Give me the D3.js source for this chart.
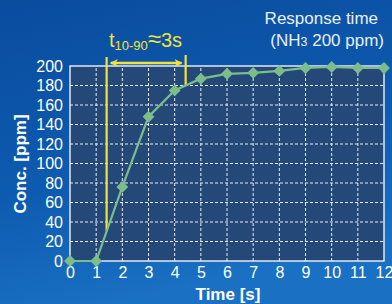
<!DOCTYPE html>
<html>
<head>
<meta charset="utf-8">
<script src="https://cdn.jsdelivr.net/npm/d3@7"></script>
<style>
  body { margin: 0; background: #0d56a6; }
  svg { display: block; }
</style>
</head>
<body>
<div id="vis"></div>
<script>
// data
var times = [0, 1, 2, 3, 4, 5, 6, 7, 8, 9, 10, 11, 12];
var conc = [0, 0, 76, 148, 175, 187, 192, 193, 195, 198, 199, 198, 198];
var xTicks = [0, 1, 2, 3, 4, 5, 6, 7, 8, 9, 10, 11, 12];
var yTicks = [0, 20, 40, 60, 80, 100, 120, 140, 160, 180, 200];
var t10 = 1.4, t90 = 4.42;

var W = 392, H = 304;
var m = {left: 70, right: 8, top: 66, bottom: 43};
var font = "Liberation Sans, Arial, sans-serif";

var svg = d3.select("#vis").append("svg").attr("width", W).attr("height", H);

// background gradient
var defs = svg.append("defs");
var grad = defs.append("linearGradient").attr("id", "bg").attr("x1", 0).attr("y1", 0).attr("x2", 0.3).attr("y2", 1);
grad.append("stop").attr("offset", "0%").attr("stop-color", "#0a4c9e");
grad.append("stop").attr("offset", "60%").attr("stop-color", "#0d5bb0");
grad.append("stop").attr("offset", "100%").attr("stop-color", "#1a70c2");
svg.append("rect").attr("width", W).attr("height", H).attr("fill", "url(#bg)");

var x = d3.scaleLinear().domain([0, 12]).range([m.left, W - m.right]);
var y = d3.scaleLinear().domain([0, 200]).range([H - m.bottom, m.top]);

// plot area
svg.append("rect")
    .attr("x", x(0)).attr("y", y(200))
    .attr("width", x(12) - x(0)).attr("height", y(0) - y(200))
    .attr("fill", "#244878");

// grid
svg.append("g").selectAll("line").data(xTicks.slice(1, -1)).join("line")
    .attr("x1", d => x(d)).attr("x2", d => x(d))
    .attr("y1", y(0)).attr("y2", y(200))
    .attr("stroke", "#e8eef6").attr("stroke-width", 1).attr("stroke-dasharray", "3,2");
svg.append("g").selectAll("line").data(yTicks.slice(1, -1)).join("line")
    .attr("x1", x(0)).attr("x2", x(12))
    .attr("y1", d => y(d)).attr("y2", d => y(d))
    .attr("stroke", "#e8eef6").attr("stroke-width", 1).attr("stroke-dasharray", "3,2");

// frame
svg.append("rect")
    .attr("x", x(0)).attr("y", y(200))
    .attr("width", x(12) - x(0)).attr("height", y(0) - y(200))
    .attr("fill", "none").attr("stroke", "#ffffff").attr("stroke-width", 1.3);

// axes
var xAxis = svg.append("g").attr("transform", "translate(0," + (y(0) + 3) + ")")
    .call(d3.axisBottom(x).tickValues(xTicks).tickSize(0).tickPadding(3));
var yAxis = svg.append("g").attr("transform", "translate(" + (x(0) - 6) + ",0)")
    .call(d3.axisLeft(y).tickValues(yTicks).tickSize(0).tickPadding(1));
[xAxis, yAxis].forEach(function(a) {
    a.select(".domain").remove();
    a.selectAll("text").attr("fill", "#ffffff")
        .style("font-family", font).style("font-size", "16px");
});

// axis titles
svg.append("text").attr("x", 228).attr("y", 300)
    .attr("text-anchor", "middle").attr("fill", "#fff")
    .style("font-family", font).style("font-weight", "bold").style("font-size", "17px")
    .text("Time [s]");
svg.append("text").attr("transform", "translate(26," + 164 + ") rotate(-90)")
    .attr("text-anchor", "middle").attr("fill", "#fff")
    .style("font-family", font).style("font-weight", "bold").style("font-size", "17px")
    .text("Conc. [ppm]");

// yellow markers
var yellow = "#f2e23c";
var interp = function(t) {
    var i = Math.floor(t);
    return conc[i] + (conc[i + 1] - conc[i]) * (t - i);
};
svg.append("line").attr("x1", x(t10)).attr("x2", x(t10)).attr("y1", 57).attr("y2", y(interp(t10)))
    .attr("stroke", yellow).attr("stroke-width", 2.2);
svg.append("line").attr("x1", x(t90)).attr("x2", x(t90)).attr("y1", 55).attr("y2", y(interp(t90)))
    .attr("stroke", yellow).attr("stroke-width", 2.2);

defs.append("marker").attr("id", "ah").attr("viewBox", "0 0 10 10").attr("refX", 9).attr("refY", 5)
    .attr("markerWidth", 3.2).attr("markerHeight", 3.2).attr("orient", "auto-start-reverse")
    .attr("markerUnits", "strokeWidth")
    .append("path").attr("d", "M0,0 L10,5 L0,10 L3,5 Z").attr("fill", yellow);
svg.append("line").attr("x1", x(t10) + 4).attr("x2", x(t90) - 4).attr("y1", 63).attr("y2", 63)
    .attr("stroke", yellow).attr("stroke-width", 2.5)
    .attr("marker-start", "url(#ah)").attr("marker-end", "url(#ah)");

var lbl = svg.append("text").attr("x", 109).attr("y", 47).attr("fill", yellow)
    .style("font-family", font).style("font-size", "20px");
lbl.append("tspan").text("t");
lbl.append("tspan").attr("dy", 3).style("font-size", "13px").text("10-90");
lbl.append("tspan").attr("dy", -3).style("font-size", "24px").text("\u2248");
lbl.append("tspan").text("3s");

// series
var green = "#7dbd8b";
svg.append("path").datum(times)
    .attr("d", d3.line().x(d => x(d)).y((d, i) => y(conc[i])))
    .attr("fill", "none").attr("stroke", green).attr("stroke-width", 2.2);
svg.append("g").selectAll("path").data(times).join("path")
    .attr("d", d3.symbol().type(d3.symbolDiamond2).size(90))
    .attr("transform", (d, i) => "translate(" + x(d) + "," + y(conc[i]) + ")")
    .attr("fill", green);

// title at top right
var tt = svg.append("g").attr("fill", "#e8f0fa")
    .style("font-family", font).style("font-size", "17px");
tt.append("text").attr("x", 378).attr("y", 24).attr("text-anchor", "end").text("Response time");
var t2 = tt.append("text").attr("x", 384).attr("y", 46).attr("text-anchor", "end");
t2.append("tspan").text("(NH");
t2.append("tspan").style("font-size", "12.5px").text("3");
t2.append("tspan").text(" 200 ppm)");
</script>
</body>
</html>
